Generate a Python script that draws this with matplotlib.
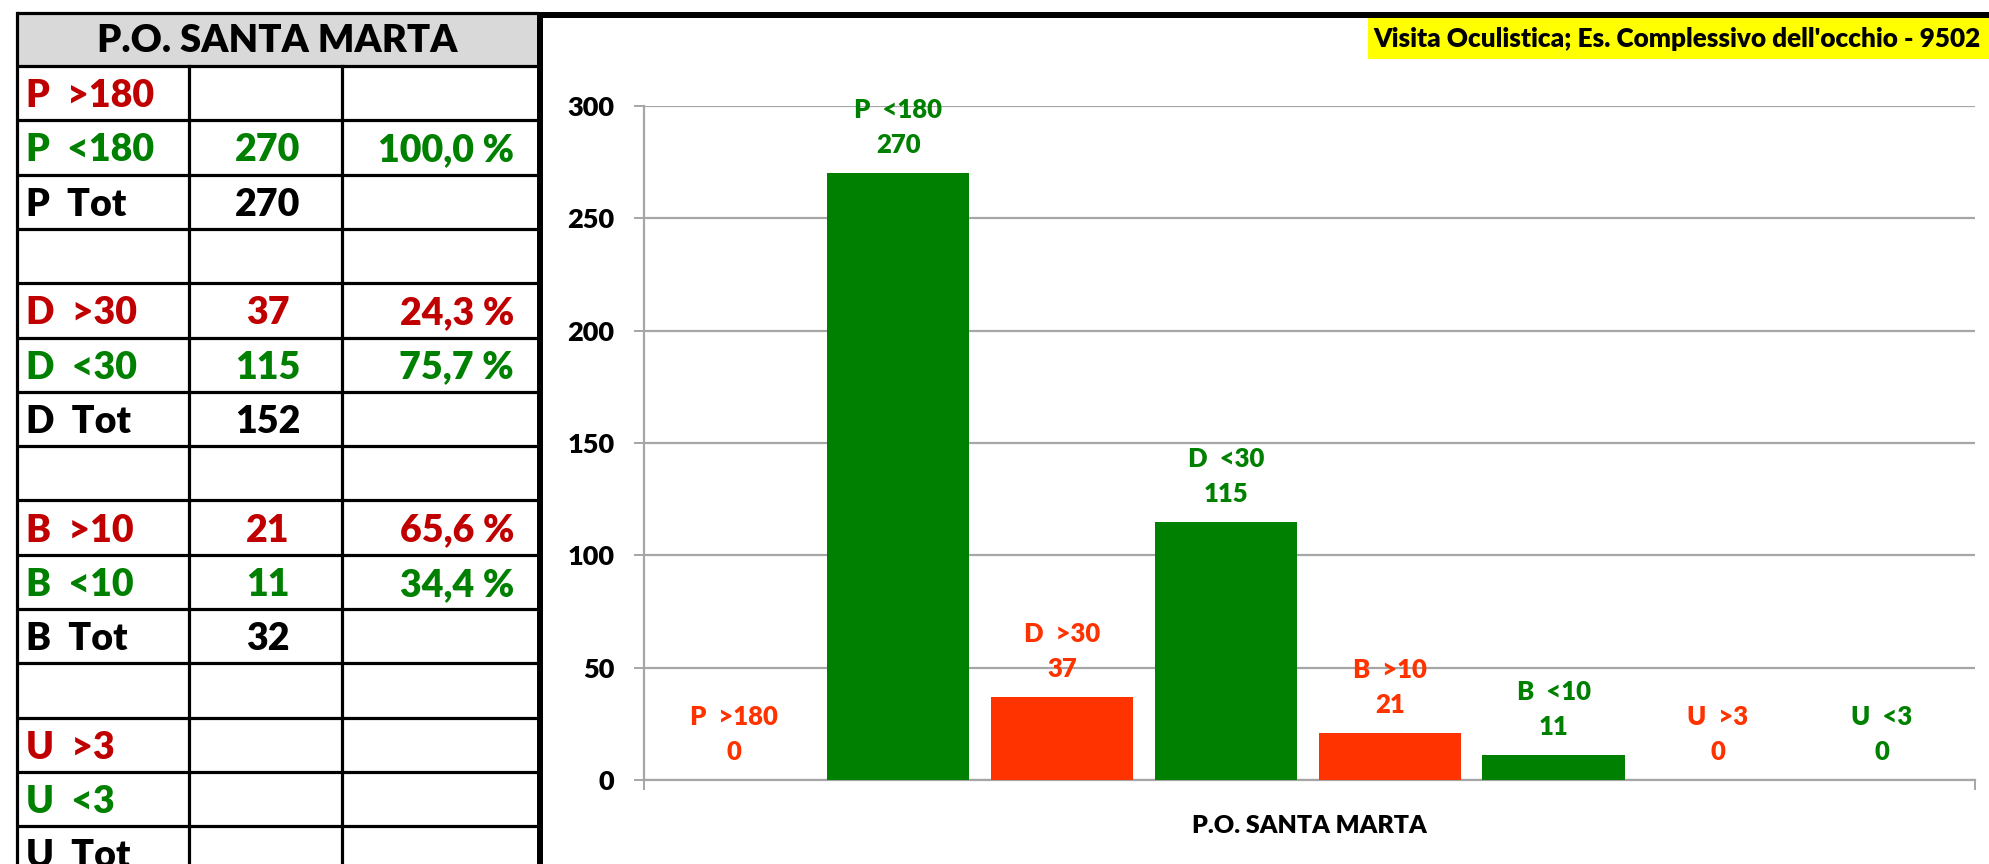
import matplotlib
matplotlib.use("Agg")
import matplotlib.pyplot as plt
from matplotlib.patches import Rectangle

W, H = 1989, 864
DPI = 100
FONT = ["Lato", "DejaVu Sans"]
plt.rcParams["font.family"] = FONT
WT = "heavy"

# ---------------- data ----------------
categories = ["P  >180", "P  <180", "D  >30", "D  <30", "B  >10", "B  <10", "U  >3", "U  <3"]
values = [0, 270, 37, 115, 21, 11, 0, 0]
bar_kinds = ["red", "green", "red", "green", "red", "green", "red", "green"]

table_title = "P.O. SANTA MARTA"
row_labels = ["P  >180", "P  <180", "P  Tot", "", "D  >30", "D  <30", "D  Tot", "",
              "B  >10", "B  <10", "B  Tot", "", "U  >3", "U  <3", "U  Tot"]
row_counts = ["", "270", "270", "", "37", "115", "152", "", "21", "11", "32", "", "", "", ""]
row_pcts = ["", "100,0 %", "", "", "24,3 %", "75,7 %", "", "", "65,6 %", "34,4 %", "", "", "", "", ""]
row_kinds = ["red", "green", "black", "black", "red", "green", "black", "black",
             "red", "green", "black", "black", "red", "green", "black"]

chart_title = "Visita Oculistica; Es. Complessivo dell'occhio - 9502"
x_label = "P.O. SANTA MARTA"
y_ticks = [0, 50, 100, 150, 200, 250, 300]

# ---------------- styles ----------------
bar_colors = {"red": "#FF3300", "green": "#008000"}
table_colors = {"red": "#C00000", "green": "#008000", "black": "#000000"}
grid_col = "#A6A6A6"

fig = plt.figure(figsize=(W / DPI, H / DPI), dpi=DPI)
fig.patch.set_facecolor("white")

# background axes in pixel coordinates (table + frames)
bg = fig.add_axes([0, 0, 1, 1])
bg.set_xlim(0, W)
bg.set_ylim(H, 0)
bg.axis("off")

tl, c1, c2, tr = 17, 189, 342, 538
top, head_b = 13, 66
row_h = 54.3
n_rows = len(row_labels)

# header
bg.add_patch(Rectangle((tl, top), tr - tl, head_b - top, facecolor="#D9D9D9", edgecolor="none"))
bg.text((tl + tr) / 2, (top + head_b) / 2 + 2, table_title, ha="center", va="center",
        fontsize=27.5, fontweight=WT, color="black")

lw_t = 2.3
bg.plot([tl, tr], [top, top], color="black", lw=lw_t, solid_capstyle="butt")
for i in range(n_rows + 1):
    y = head_b + i * row_h
    bg.plot([tl, tr], [y, y], color="black", lw=lw_t, solid_capstyle="butt")
bottom_y = head_b + n_rows * row_h
bg.plot([tl, tl], [top, bottom_y], color="black", lw=lw_t)
bg.plot([c1, c1], [head_b, bottom_y], color="black", lw=lw_t)
bg.plot([c2, c2], [head_b, bottom_y], color="black", lw=lw_t)

for i in range(n_rows):
    yc = head_b + (i + 0.5) * row_h + 3
    col = table_colors[row_kinds[i]]
    if row_labels[i]:
        bg.text(26, yc, row_labels[i], ha="left", va="center", fontsize=27,
                fontweight=WT, color=col)
    if row_counts[i]:
        bg.text((c1 + c2) / 2 + 2, yc, row_counts[i], ha="center", va="center", fontsize=27,
                fontweight=WT, color=col)
    if row_pcts[i]:
        bg.text(514, yc, row_pcts[i], ha="right", va="center", fontsize=27,
                fontweight=WT, color=col)

# chart frame (thick black lines)
bg.add_patch(Rectangle((537, 12), W - 537, 6, facecolor="black", edgecolor="none"))
bg.add_patch(Rectangle((537, 12), 6, H - 12, facecolor="black", edgecolor="none"))

# chart title with yellow background
bg.add_patch(Rectangle((1368, 18), W - 1368, 41, facecolor="#FFFF00", edgecolor="none"))
bg.text(1373, 39, chart_title, ha="left", va="center", fontsize=18.8,
        fontweight=WT, color="black", clip_on=True)

# ---------------- bar chart ----------------
ax_l, ax_r, y0, y300 = 644, 1975, 780, 106
ax = fig.add_axes([ax_l / W, (H - y0) / H, (ax_r - ax_l) / W, (y0 - y300) / H])
ax.patch.set_alpha(0)

xs = list(range(len(categories)))
x_lo, x_hi = -0.55, 7.57
ax.bar(xs, values, width=0.87, color=[bar_colors[k] for k in bar_kinds], zorder=3)

for x, cat, v, k in zip(xs, categories, values, bar_kinds):
    c = bar_colors[k]
    ax.annotate(str(v), xy=(x, v), xytext=(0, 28 * 0.72), textcoords="offset points",
                ha="center", va="center", fontsize=18.5, fontweight=WT, color=c,
                annotation_clip=False, zorder=4)
    ax.annotate(cat, xy=(x, v), xytext=(0, 63 * 0.72), textcoords="offset points",
                ha="center", va="center", fontsize=18.5, fontweight=WT, color=c,
                annotation_clip=False, zorder=4)

ax.set_xlim(x_lo, x_hi)
ax.set_ylim(0, 300)
ax.set_yticks(y_ticks)
ax.set_yticklabels([str(t) for t in y_ticks], fontsize=19.5, fontweight=WT)
ax.yaxis.grid(True, color=grid_col, lw=1.6, zorder=0)
ax.set_axisbelow(True)
ax.tick_params(axis="y", direction="out", length=7.2, width=1.4, color=grid_col, pad=14)
ax.set_xticks([x_lo, x_hi])
ax.set_xticklabels(["", ""])
ax.tick_params(axis="x", direction="out", length=7.2, width=1.4, color=grid_col)
for s in ["top", "right"]:
    ax.spines[s].set_visible(False)
for s in ["left", "bottom"]:
    ax.spines[s].set_color(grid_col)
    ax.spines[s].set_linewidth(1.6)

fig.text(1309 / W, 1 - 826 / H, x_label, ha="center", va="center", fontsize=18,
         fontweight=WT, color="black")

fig.savefig("out.png", dpi=DPI)
